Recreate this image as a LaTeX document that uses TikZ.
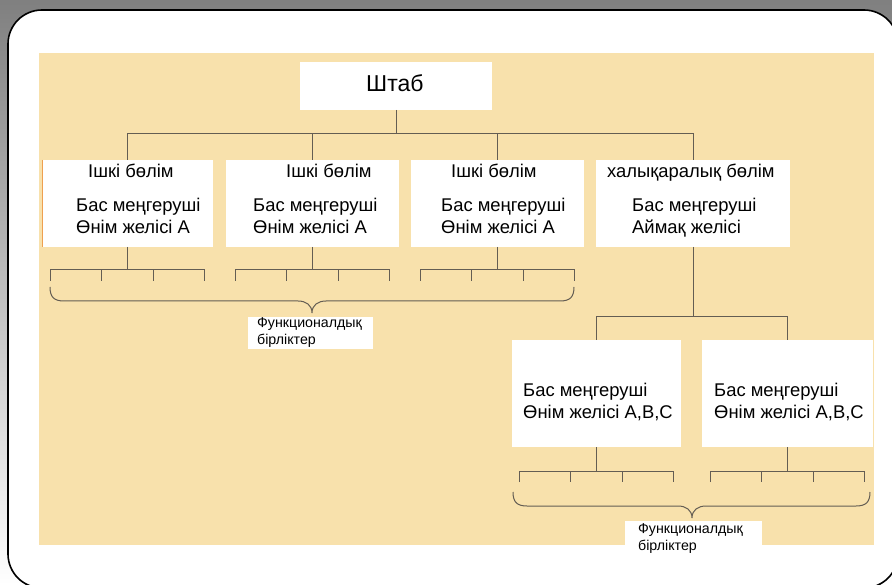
\documentclass[tikz,border=0pt]{standalone}
\usepackage{fontspec}
\setmainfont{Liberation Sans}
\definecolor{beige}{RGB}{248,225,172}
\definecolor{connc}{RGB}{100,93,83}
\definecolor{shade}{RGB}{238,238,238}
\definecolor{edgeor}{RGB}{238,160,80}
\begin{document}
\begin{tikzpicture}[x=1pt,y=-1pt,
  box/.style={draw=none, fill=white, inner sep=0pt, outer sep=0pt, anchor=north west},
  conn/.style={draw=connc, line width=1pt},
  txt/.style={inner sep=0pt, anchor=base west, font=\fontsize{18.4}{22}\selectfont},
  bigtxt/.style={inner sep=0pt, anchor=base west, font=\fontsize{23}{26}\selectfont},
  smalltxt/.style={inner sep=0pt, anchor=base west, font=\fontsize{14.2}{16}\selectfont}
]
\useasboundingbox (0,0) rectangle (892,585);
\clip (0,0) rectangle (892,585);
\fill[shade] (0,0) rectangle (892,585);
\draw[line width=1.6pt, fill=white, rounded corners=34pt] (8,10) rectangle (898,588);
\fill[beige] (39,53) rectangle (874,545);

% boxes
\node[box, minimum width=192pt, minimum height=48pt] (hq) at (300,62) {};
\node[box, minimum width=171pt, minimum height=87pt] (b1) at (42,160) {};
\node[box, minimum width=173pt, minimum height=87pt] (b2) at (226,160) {};
\node[box, minimum width=173pt, minimum height=87pt] (b3) at (411,160) {};
\node[box, minimum width=194pt, minimum height=87pt] (b4) at (596,160) {};
\node[box, minimum width=169pt, minimum height=107pt] (b5) at (512,340) {};
\node[box, minimum width=171pt, minimum height=107pt] (b6) at (702,340) {};
\node[box, minimum width=125pt, minimum height=32pt] (f1) at (248,317) {};
\node[box, minimum width=137pt, minimum height=40pt] (f2) at (625,521) {};
\draw[edgeor, line width=1pt] (b1.north west) -- (b1.south west);

% texts
\node[bigtxt] (thq) at (366,92) {Штаб};
\node[txt] (t1a) at (88,178) {Ішкі бөлім};
\node[txt] (t1b) at (76,212) {Бас меңгеруші};
\node[txt] (t1c) at (76,234) {Өнім желісі А};
\node[txt] (t2a) at (286,178) {Ішкі бөлім};
\node[txt] (t2b) at (253,212) {Бас меңгеруші};
\node[txt] (t2c) at (253,234) {Өнім желісі А};
\node[txt] (t3a) at (451,178) {Ішкі бөлім};
\node[txt] (t3b) at (441,212) {Бас меңгеруші};
\node[txt] (t3c) at (441,234) {Өнім желісі А};
\node[txt] (t4a) at (607,178) {халықаралық бөлім};
\node[txt] (t4b) at (632,212) {Бас меңгеруші};
\node[txt] (t4c) at (632,234) {Аймақ желісі};
\node[txt] (t5b) at (523,396) {Бас меңгеруші};
\node[txt] (t5c) at (523,418) {Өнім желісі А,В,С};
\node[txt] (t6b) at (714,396) {Бас меңгеруші};
\node[txt] (t6c) at (714,418) {Өнім желісі А,В,С};
\node[smalltxt] (tf1a) at (257,328) {Функционалдық};
\node[smalltxt] (tf1b) at (257,345) {бірліктер};
\node[smalltxt] (tf2a) at (638,533) {Функционалдық};
\node[smalltxt] (tf2b) at (638,550) {бірліктер};

% connectors
\coordinate (topbar) at (395,134);
\draw[conn] (hq.south) -- (hq.south |- topbar);
\draw[conn] (b1.north) -- (b1.north |- topbar) -- (b4.north |- topbar) -- (b4.north);
\draw[conn] (b2.north) -- (b2.north |- topbar);
\draw[conn] (b3.north) -- (b3.north |- topbar);
\coordinate (midbar) at (693,317);
\draw[conn] (b4.south) -- (b4.south |- midbar);
\draw[conn] (b5.north) -- (b5.north |- midbar) -- (b6.north |- midbar) -- (b6.north);

\foreach \b/\d in {b1/23,b2/23,b3/23,b5/24,b6/24}{
  \draw[conn] (\b.south) -- ++(0,\d) coordinate (\b-j);
  \draw[conn] ([xshift=-77pt]\b-j) ++(0,11) -- ++(0,-11) -- ++(154,0) -- ++(0,11);
  \foreach \dx in {-25.7,25.7} \draw[conn] ([xshift=\dx pt]\b-j) -- ++(0,11);
}

% braces
\draw[conn] (50,287) .. controls (50,297) and (54,301) .. (64,301) -- (298,301) .. controls (306,301) and (312,305) .. (312,313) .. controls (312,305) and (318,301) .. (326,301) -- (560,301) .. controls (570,301) and (574,297) .. (574,287);
\draw[conn] (513,492) .. controls (513,502) and (517,506) .. (527,506) -- (678,506) .. controls (686,506) and (692,510) .. (692,518) .. controls (692,510) and (698,506) .. (706,506) -- (856,506) .. controls (866,506) and (870,502) .. (870,492);
\end{tikzpicture}
\end{document}
